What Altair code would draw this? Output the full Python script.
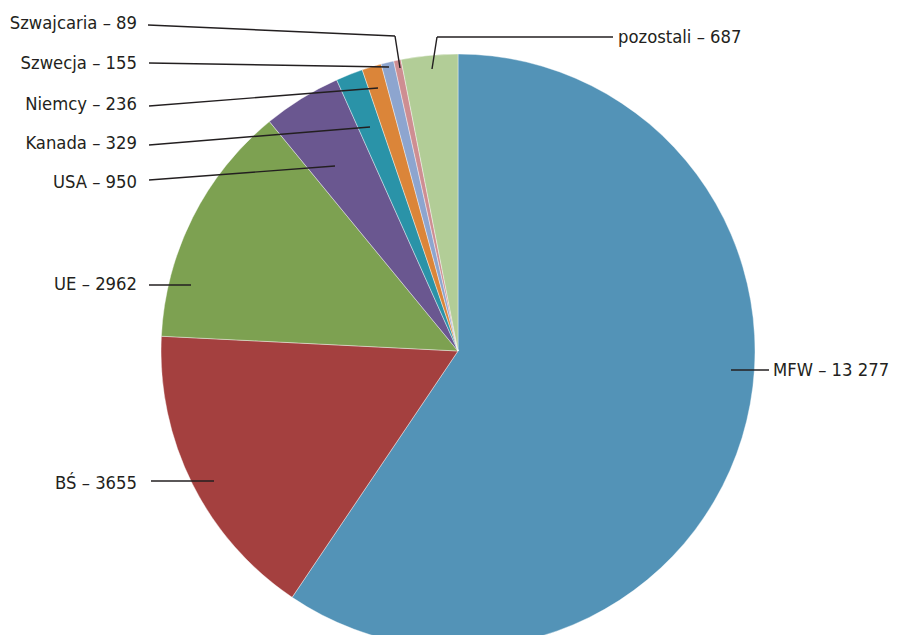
import altair as alt
import pandas as pd

# ---- data ----
names = ["MFW", "BŚ", "UE", "USA", "Kanada", "Niemcy", "Szwecja", "Szwajcaria", "pozostali"]
values = [13277, 3655, 2962, 950, 329, 236, 155, 89, 687]
labels = ["MFW – 13 277", "BŚ – 3655", "UE – 2962", "USA – 950", "Kanada – 329",
          "Niemcy – 236", "Szwecja – 155", "Szwajcaria – 89", "pozostali – 687"]
colors = ["#5393B7", "#A4403F", "#7DA151", "#6A5790", "#2A93A8", "#DB8539",
          "#8DA5CF", "#CE8E92", "#B2CD97"]

# ---- annotation layout (page pixels) ----
label_x = [773, 137, 137, 137, 137, 137, 137, 137, 618]
label_y = [371, 484, 285, 183, 144, 105, 64, 24, 38]
label_align = ["left", "right", "right", "right", "right", "right", "right", "right", "left"]
# leader lines: list of polyline points per label
leaders = [
    [(731, 370), (769, 370)],
    [(151, 481), (214, 481)],
    [(149, 285), (191, 285)],
    [(149, 180), (335, 166)],
    [(149, 145), (370, 127)],
    [(149, 106), (378, 88)],
    [(149, 63), (389, 67)],
    [(148, 25), (395, 36), (400, 68)],
    [(613, 37), (437, 37), (432, 69)],
]

W, H = 882, 627
CX, CY, R = 458, 351, 297

pie_df = pd.DataFrame({"name": names, "value": values, "order": list(range(len(names)))})

lab_df = pd.DataFrame({"label": labels, "x": label_x, "y": label_y, "align": label_align})

segs = []
for i, pts in enumerate(leaders):
    for a, b in zip(pts[:-1], pts[1:]):
        segs.append({"x": a[0], "y": a[1], "x2": b[0], "y2": b[1]})
seg_df = pd.DataFrame(segs)

xs = alt.Scale(domain=[8, 8 + W], range=[0, W])
ys = alt.Scale(domain=[8, 8 + H], range=[0, H])

pie = alt.Chart(pie_df).mark_arc(outerRadius=R, stroke="white", strokeWidth=0.4).encode(
    theta=alt.Theta("value:Q", stack=True),
    order=alt.Order("order:Q"),
    color=alt.Color("name:N", scale=alt.Scale(domain=names, range=colors), legend=None),
    x=alt.value(CX - 8),
    y=alt.value(CY - 8),
)

rules = alt.Chart(seg_df).mark_rule(color="#231f20", strokeWidth=1.4).encode(
    x=alt.X("x:Q", scale=xs, axis=None),
    y=alt.Y("y:Q", scale=ys, axis=None),
    x2="x2:Q",
    y2="y2:Q",
)

font = "DejaVu Sans Condensed, Liberation Sans Narrow, sans-serif"
FS = 18.3
txt_left = alt.Chart(lab_df[lab_df["align"] == "left"]).mark_text(
    align="left", baseline="middle", font=font, fontSize=FS, color="#231f20"
).encode(
    x=alt.X("x:Q", scale=xs, axis=None),
    y=alt.Y("y:Q", scale=ys, axis=None),
    text="label:N",
)
txt_right = alt.Chart(lab_df[lab_df["align"] == "right"]).mark_text(
    align="right", baseline="middle", font=font, fontSize=FS, color="#231f20"
).encode(
    x=alt.X("x:Q", scale=xs, axis=None),
    y=alt.Y("y:Q", scale=ys, axis=None),
    text="label:N",
)

chart = alt.layer(pie, rules, txt_left, txt_right).resolve_scale(
    x="shared", y="shared"
).properties(width=W, height=H, padding=0, autosize="none").configure_view(
    stroke=None
)

chart.save("out.html", embed_options={"renderer": "svg", "actions": False})
